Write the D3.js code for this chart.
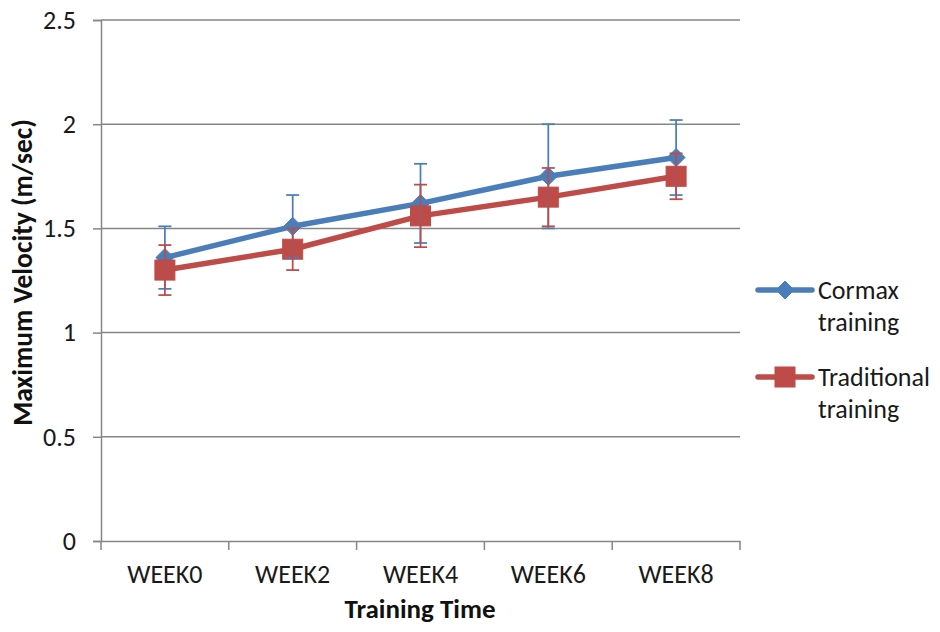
<!DOCTYPE html>
<html><head><meta charset="utf-8">
<script src="https://cdn.jsdelivr.net/npm/d3@7"></script>
<style>html,body{margin:0;padding:0;background:#fff;}</style>
</head><body>
<svg id="chart" width="940" height="632"></svg>
<script>
const categories = ["WEEK0","WEEK2","WEEK4","WEEK6","WEEK8"];
const cormaxValues = [1.36, 1.51, 1.62, 1.75, 1.84];
const cormaxErrors = [0.15, 0.15, 0.19, 0.25, 0.18];
const traditionalValues = [1.30, 1.40, 1.56, 1.65, 1.75];
const traditionalErrors = [0.12, 0.10, 0.15, 0.14, 0.11];
const yTicks = [0, 0.5, 1, 1.5, 2, 2.5];
const seriesNames = ["Cormax training", "Traditional training"];

(function() {
const font = "Carlito, Lato, 'Open Sans', sans-serif";
const svg = d3.select("#chart");
const pL = 101, pR = 740, pT = 20, pB = 541;
const x = d3.scaleBand().domain(categories).range([pL, pR]);
const y = d3.scaleLinear().domain([0, 2.5]).range([pB, pT]);
const gridColor = "#868686";

// gridlines
svg.append("g").selectAll("line").data(yTicks.filter(d => d > 0)).join("line")
  .attr("x1", pL).attr("x2", pR)
  .attr("y1", d => y(d)).attr("y2", d => y(d))
  .attr("stroke", gridColor).attr("stroke-width", 1.5);

// y axis
const yAxis = svg.append("g").attr("transform", `translate(${pL},0)`)
  .call(d3.axisLeft(y).tickValues(yTicks).tickSize(8).tickPadding(17).tickFormat(d3.format("")));
yAxis.select(".domain").attr("stroke", gridColor).attr("stroke-width", 1.5);
yAxis.selectAll(".tick line").attr("stroke", gridColor).attr("stroke-width", 1.5);
yAxis.selectAll("text").attr("font-family", font).attr("font-size", 26).attr("fill", "#1a1a1a");

// x axis
const xAxis = svg.append("g").attr("transform", `translate(0,${pB})`)
  .call(d3.axisBottom(x).tickSize(0).tickPadding(23.5));
xAxis.select(".domain").attr("stroke", gridColor).attr("stroke-width", 1.5);
xAxis.selectAll("text").attr("font-family", font).attr("font-size", 26).attr("fill", "#1a1a1a");
const bounds = categories.map(c => x(c)).concat([x(categories[categories.length-1]) + x.bandwidth()]);
xAxis.append("g").selectAll("line").data(bounds).join("line")
  .attr("x1", d => d).attr("x2", d => d).attr("y1", 0).attr("y2", 9)
  .attr("stroke", gridColor).attr("stroke-width", 1.5);

// axis titles
svg.append("text").attr("x", 420).attr("y", 618)
  .attr("text-anchor", "middle").attr("font-family", font).attr("font-weight", "bold")
  .attr("font-size", 27).attr("fill", "#111").text("Training Time");
svg.append("text").attr("transform", `translate(32,272.5) rotate(-90)`)
  .attr("text-anchor", "middle").attr("font-family", font).attr("font-weight", "bold")
  .attr("font-size", 27.5).attr("fill", "#111").text("Maximum Velocity (m/sec)");

const cx = c => x(c) + x.bandwidth() / 2;
const series = [
  {name: seriesNames[0], values: cormaxValues, errors: cormaxErrors, color: "#4A7EBB", marker: "diamond"},
  {name: seriesNames[1], values: traditionalValues, errors: traditionalErrors, color: "#BE4B48", marker: "square"}
];

function drawMarker(g, type, color, px, py) {
  if (type === "diamond") {
    g.append("path").attr("d", `M${px},${py-9}L${px+9},${py}L${px},${py+9}L${px-9},${py}Z`)
      .attr("fill", color).attr("stroke", color).attr("stroke-width", 1);
  } else {
    g.append("rect").attr("x", px - 10).attr("y", py - 10).attr("width", 20).attr("height", 20)
      .attr("fill", color).attr("stroke", color).attr("stroke-width", 1);
  }
}

const line = d3.line().x((d, i) => cx(categories[i])).y(d => y(d));
series.forEach(s => {
  const g = svg.append("g");
  g.append("path").datum(s.values).attr("d", line).attr("fill", "none")
    .attr("stroke", s.color).attr("stroke-width", 5.5).attr("stroke-linejoin", "round");
  s.values.forEach((v, i) => drawMarker(g, s.marker, s.color, cx(categories[i]), y(v)));
});
series.forEach(s => {
  const g = svg.append("g").attr("stroke", s.color).attr("stroke-width", 1.75);
  s.values.forEach((v, i) => {
    const px = cx(categories[i]);
    const hi = y(v + s.errors[i]), lo = y(v - s.errors[i]);
    g.append("line").attr("x1", px).attr("x2", px).attr("y1", hi).attr("y2", lo);
    g.append("line").attr("x1", px - 6.5).attr("x2", px + 6.5).attr("y1", hi).attr("y2", hi);
    g.append("line").attr("x1", px - 6.5).attr("x2", px + 6.5).attr("y1", lo).attr("y2", lo);
  });
});

// legend
const legendY = [290, 377];
series.forEach((s, i) => {
  const g = svg.append("g");
  const ly = legendY[i];
  g.append("line").attr("x1", 758).attr("x2", 812).attr("y1", ly).attr("y2", ly)
    .attr("stroke", s.color).attr("stroke-width", 5.5).attr("stroke-linecap", "round");
  drawMarker(g, s.marker, s.color, 785, ly);
  const words = s.name.split(" ");
  g.append("text").attr("x", 818).attr("y", ly + 9).attr("font-family", font)
    .attr("font-size", 26).attr("fill", "#1a1a1a").text(words[0]);
  g.append("text").attr("x", 818).attr("y", ly + 41).attr("font-family", font)
    .attr("font-size", 26).attr("fill", "#1a1a1a").text(words[1]);
});
})();
</script>
</body></html>
